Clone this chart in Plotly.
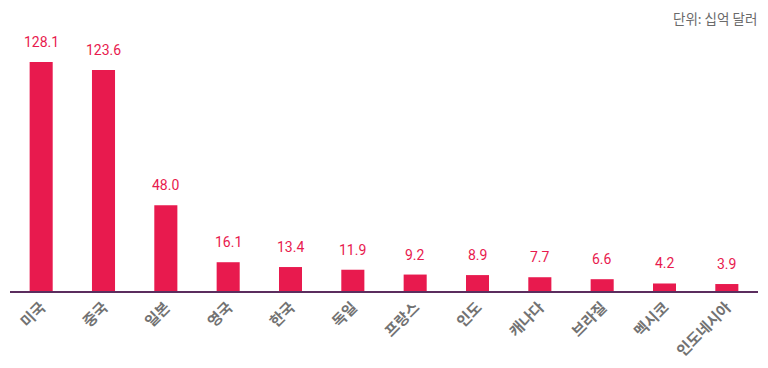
import plotly.graph_objects as go

countries = ["미국", "중국", "일본", "영국", "한국", "독일", "프랑스", "인도", "캐나다", "브라질", "멕시코", "인도네시아"]
values = [128.1, 123.6, 48.0, 16.1, 13.4, 11.9, 9.2, 8.9, 7.7, 6.6, 4.2, 3.9]
unit_label = "단위: 십억 달러"

bar_color = "#E81A4E"
kr_font = "Noto Sans CJK KR, Noto Sans, sans-serif"
num_font = "Roboto, Noto Sans, sans-serif"

fig = go.Figure()
fig.add_trace(go.Bar(
    x=countries, y=values,
    marker=dict(color=bar_color, line=dict(width=0)),
    width=0.37,
    hoverinfo="skip",
))

for c, v in zip(countries, values):
    fig.add_annotation(x=c, y=v, text=f"{v:.1f}", showarrow=False,
                       yanchor="bottom", yshift=10,
                       font=dict(family=num_font, size=14, color=bar_color))

fig.add_annotation(xref="paper", yref="paper", x=1.0, y=1.0, xanchor="right", yanchor="middle",
                   yshift=22, borderpad=0, text=unit_label, showarrow=False,
                   font=dict(family=kr_font, size=13.5, color="#6A6A6A"))

fig.update_layout(
    width=760, height=360,
    margin=dict(l=2, r=10, t=32, b=77),
    paper_bgcolor="white", plot_bgcolor="white",
    showlegend=False,
    xaxis=dict(tickangle=-45, automargin=False,
               tickfont=dict(family=kr_font, size=15, color="#727272", weight=700),
               showline=True, linecolor="#5B2D5E", linewidth=1.5, showgrid=False, ticks=""),
    yaxis=dict(range=[0, 140.4], visible=False, showgrid=False, automargin=False),
)

fig.write_html("out.html")
